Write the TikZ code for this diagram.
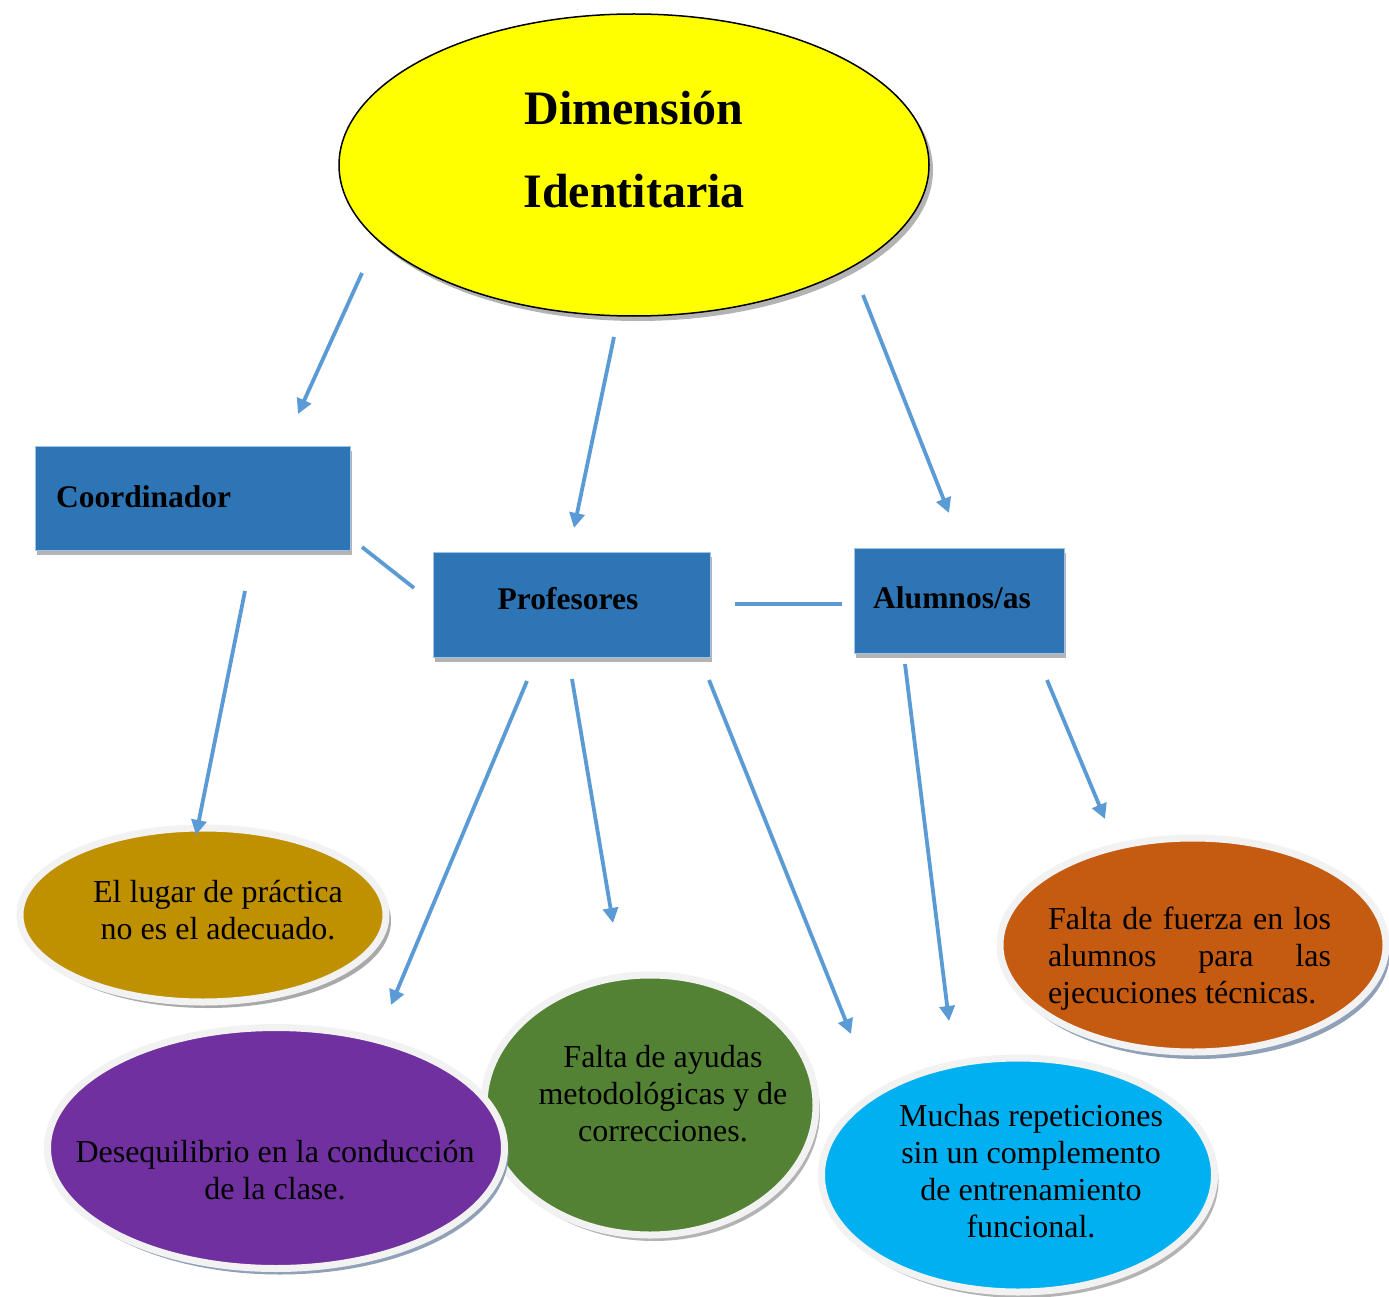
\documentclass[tikz,border=0pt]{standalone}
\usepackage{fontspec}
\setmainfont{Liberation Serif}
\usetikzlibrary{shapes.geometric,arrows.meta,shadows}
\definecolor{titleyellow}{HTML}{FFFF00}
\definecolor{boxblue}{HTML}{2E75B6}
\definecolor{boxedge}{HTML}{9DC3E6}
\definecolor{arrowblue}{HTML}{5B9BD5}
\definecolor{goldfill}{HTML}{BF9000}
\definecolor{purplefill}{HTML}{7030A0}
\definecolor{greenfill}{HTML}{548235}
\definecolor{orangefill}{HTML}{C55A11}
\definecolor{cyanfill}{HTML}{00B0F0}
\definecolor{ringgray}{HTML}{F2F2F2}
\definecolor{shadowgray}{HTML}{A0A0A0}
\definecolor{shadowblue}{HTML}{8497B0}
\begin{document}
\begin{tikzpicture}[x=1pt,y=-1pt,
  arr/.style={draw=arrowblue, line width=3.8pt, -{Triangle[length=15pt,width=15pt]}},
  link/.style={draw=arrowblue, line width=3.8pt},
  boxnode/.style={rectangle, fill=boxblue, draw=boxedge, line width=1pt, inner sep=0pt,
     drop shadow={shadow xshift=2pt, shadow yshift=-5pt, fill=shadowgray, opacity=0.8}},
  boxtext/.style={font=\bfseries\fontsize{31.5}{36}\selectfont, inner sep=0pt},
  bubble/.style={ellipse, draw=ringgray, line width=7pt, inner sep=0pt},
  bubtext/.style={font=\fontsize{32}{37}\selectfont, align=center, inner sep=0pt}
]
\useasboundingbox (0,0) rectangle (1389,1297);
\fill[white] (0,0) rectangle (1389,1297);

% title
\node[ellipse, fill=titleyellow, draw=black, line width=1.5pt, minimum width=590pt, minimum height=302pt,
  drop shadow={shadow xshift=4pt, shadow yshift=-5pt, fill=shadowgray, opacity=0.8}] (title) at (634,165) {};
\node[font=\bfseries\fontsize{48}{83}\selectfont, align=center, inner sep=0pt] (titletext) at (634,150) {Dimensión\\Identitaria};

% boxes
\node[boxnode, minimum width=315pt, minimum height=104pt] (coord) at (192.5,498) {};
\node[boxtext, anchor=west] (coordtext) at (56,497) {Coordinador};
\node[boxnode, minimum width=277pt, minimum height=105pt] (prof) at (571.5,604.5) {};
\node[boxtext] (proftext) at (568,599) {Profesores};
\node[boxnode, minimum width=210pt, minimum height=105pt] (alum) at (959,600.5) {};
\node[boxtext] (alumtext) at (952,598) {Alumnos/as};

% bubbles
\node[bubble, fill=goldfill, minimum width=366pt, minimum height=174pt,
  drop shadow={shadow xshift=5pt, shadow yshift=-6pt, fill=shadowgray, opacity=0.9}] (gold) at (203,915) {};
\node[bubtext] (goldtext) at (218,910) {El lugar de práctica\\no es el adecuado.};

\node[bubble, fill=greenfill, minimum width=332pt, minimum height=260pt,
  drop shadow={shadow xshift=4pt, shadow yshift=-6pt, fill=shadowgray, opacity=0.8}] (green) at (650,1105) {};
\node[bubtext] (greentext) at (663,1094) {Falta de ayudas\\metodológicas y de\\correcciones.};

\node[bubble, fill=purplefill, minimum width=457pt, minimum height=241pt,
  drop shadow={shadow xshift=4pt, shadow yshift=-6pt, fill=shadowblue, opacity=0.9}] (purple) at (276,1148) {};
\node[bubtext] (purpletext) at (275,1170) {Desequilibrio en la conducción\\de la clase.};

\node[bubble, fill=orangefill, minimum width=386pt, minimum height=214pt,
  drop shadow={shadow xshift=4pt, shadow yshift=-7pt, fill=shadowblue, opacity=0.9}] (orange) at (1193,945) {};
\node[font=\fontsize{32}{37}\selectfont, text width=283pt, align=justify, inner sep=0pt] (orangetext) at (1189.5,959)
  {Falta de fuerza en los\linebreak alumnos para las\linebreak ejecuciones técnicas.};

\node[bubble, fill=cyanfill, minimum width=393pt, minimum height=234pt,
  drop shadow={shadow xshift=4pt, shadow yshift=-6pt, fill=shadowgray, opacity=0.8}] (cyan) at (1018,1175) {};
\node[bubtext] (cyantext) at (1031,1171) {Muchas repeticiones\\sin un complemento\\de entrenamiento\\funcional.};

% connector end points
\coordinate (t1) at (362,273); \coordinate (c1) at (298,414);
\coordinate (t2) at (614,337); \coordinate (p1) at (574,528);
\coordinate (t3) at (863,295); \coordinate (al1) at (949,513);
\coordinate (c2) at (245,591); \coordinate (g1) at (196,835);
\coordinate (p2) at (527,681); \coordinate (pu1) at (391,1005);
\coordinate (p3) at (572,679); \coordinate (gr1) at (613,923);
\coordinate (p4) at (709,680); \coordinate (cy1) at (851,1034);
\coordinate (al2) at (905,664); \coordinate (cy2) at (949,1021);
\coordinate (al3) at (1047,680); \coordinate (or1) at (1105,819);
\coordinate (c3) at (362,547); \coordinate (p5) at (414,588);
\coordinate (p6) at (735,604); \coordinate (al4) at (842,604);

\draw[arr] (t1) -- (c1);
\draw[arr] (t2) -- (p1);
\draw[arr] (t3) -- (al1);
\draw[arr] (c2) -- (g1);
\draw[arr] (p2) -- (pu1);
\draw[arr] (p3) -- (gr1);
\draw[arr] (p4) -- (cy1);
\draw[arr] (al2) -- (cy2);
\draw[arr] (al3) -- (or1);
\draw[link] (c3) -- (p5);
\draw[link] (p6) -- (al4);
\end{tikzpicture}
\end{document}
